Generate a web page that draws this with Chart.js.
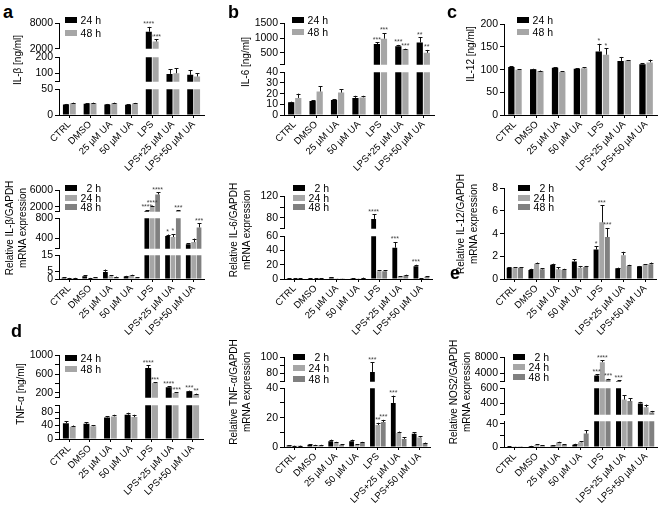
<!DOCTYPE html>
<html>
<head>
<meta charset="utf-8">
<script src="https://cdn.jsdelivr.net/npm/chart.js@4"></script>
<style>
body { margin: 0; background: #fff; }
#fig { position: relative; width: 669px; height: 507px; overflow: hidden; font-family: 'Liberation Sans', Arial, sans-serif; color: #000; background: #fff; }
#fig canvas { position: absolute; }
.lab { position: absolute; font-weight: bold; font-size: 18px; line-height: 18px; }
.yt { position: absolute; white-space: nowrap; font-size: 10px; line-height: 13px; text-align: center; transform: translate(-50%, -50%) rotate(-90deg); }
.lg { position: absolute; height: 12px; font-size: 10.5px; line-height: 12px; }
.lg i { position: absolute; left: 0; top: 3px; width: 12px; height: 6px; }
.lg span { position: absolute; left: 15px; width: 21px; text-align: right; white-space: nowrap; }
</style>
</head>
<body>
<div id="fig"></div>
<script>
const categories = ['CTRL', 'DMSO', '25 µM UA', '50 µM UA', 'LPS', 'LPS+25 µM UA', 'LPS+50 µM UA'];

// a, top: IL-β [ng/ml]
const ilbProt24 = [20.6, 22, 20.5, 20, 6000, 98, 92];
const ilbProt24Err = [21.5, 23, 21.5, 21, 7150, 126, 122];
const ilbProt24Stars = ['', '', '', '', '****', '', ''];
const ilbProt48 = [23, 23, 23, 22.5, 3700, 102, 82];
const ilbProt48Err = [24, 24, 24, 23.5, 4240, 132, 102];
const ilbProt48Stars = ['', '', '', '', '****', '', ''];

// a, bottom: relative IL-β/GAPDH mRNA
const ilbMrna2 = [0.8, 1.8, 4.5, 1.6, 1000, 450, 290];
const ilbMrna2Err = [1, 2.3, 6, 2, 1200, 480, 310];
const ilbMrna2Stars = ['', '', '', '', '****', '*', ''];
const ilbMrna24 = [0.6, 0.5, 1.8, 2.2, 2000, 430, 330];
const ilbMrna24Err = [0.7, 0.7, 2.3, 2.7, 2300, 490, 400];
const ilbMrna24Stars = ['', '', '', '', '****', '*', ''];
const ilbMrna48 = [0.7, 0.9, 1.2, 0.8, 5000, 1000, 620];
const ilbMrna48Err = [0.8, 1.1, 1.5, 1, 5500, 1100, 700];
const ilbMrna48Stars = ['', '', '', '', '****', '***', '***'];

// b, top: IL-6 [ng/ml]
const il6Prot24 = [12, 13, 14, 16, 800, 720, 850];
const il6Prot24Err = [12.5, 14, 15, 18, 860, 770, 1020];
const il6Prot24Stars = ['', '', '', '', '***', '***', '**'];
const il6Prot48 = [16, 22, 21, 16.5, 980, 620, 500];
const il6Prot48Err = [20, 27, 24, 18, 1170, 640, 600];
const il6Prot48Stars = ['', '', '', '', '***', '***', '**'];

// b, bottom: relative IL-6/GAPDH mRNA
const il6Mrna2 = [1, 1, 2, 1, 78, 44, 18];
const il6Mrna2Err = [1.3, 1.3, 2.5, 1.3, 87, 52, 20];
const il6Mrna2Stars = ['', '', '', '', '****', '***', '***'];
const il6Mrna24 = [0.8, 0.8, 0.5, 0.5, 11, 3, 1];
const il6Mrna24Err = [1, 1, 0.7, 0.7, 12.5, 4, 1.3];
const il6Mrna48 = [0.8, 1, 0.5, 1.5, 11, 5, 3];
const il6Mrna48Err = [1, 1.2, 0.7, 2, 12.5, 6, 3.8];

// c, top: IL-12 [ng/ml]
const il12Prot24 = [106, 101, 104, 102, 140, 119, 112];
const il12Prot24Err = [107, 102, 105, 103, 157, 128, 114];
const il12Prot24Stars = ['', '', '', '', '*', '', ''];
const il12Prot48 = [100, 97, 95, 103, 133, 120, 116];
const il12Prot48Err = [101, 98, 96, 105, 147, 121, 122];
const il12Prot48Stars = ['', '', '', '', '*', '', ''];

// c, bottom: relative IL-12/GAPDH mRNA
const il12Mrna2 = [1, 0.8, 1.25, 1.55, 2.6, 0.95, 1.1];
const il12Mrna2Err = [1.05, 0.9, 1.35, 1.75, 2.9, 1, 1.15];
const il12Mrna2Stars = ['', '', '', '', '*', '', ''];
const il12Mrna24 = [1, 1.35, 0.85, 1, 5, 2.1, 1.25];
const il12Mrna24Err = [1.05, 1.45, 1.05, 1.15, 6.5, 2.4, 1.3];
const il12Mrna24Stars = ['', '', '', '', '***', '', ''];
const il12Mrna48 = [1, 0.85, 0.8, 1.05, 3.7, 1.15, 1.3];
const il12Mrna48Err = [1.05, 0.95, 0.9, 1.15, 4.5, 1.25, 1.45];
const il12Mrna48Stars = ['', '', '', '', '***', '', ''];

// d, left: TNF-α [ng/ml]
const tnfProt24 = [47, 45, 64, 72, 730, 320, 235];
const tnfProt24Err = [52, 50, 67, 78, 790, 340, 250];
const tnfProt24Stars = ['', '', '', '', '****', '****', '***'];
const tnfProt48 = [36, 38, 67, 65, 410, 200, 170];
const tnfProt48Err = [40, 41, 72, 72, 430, 215, 185];
const tnfProt48Stars = ['', '', '', '', '***', '****', '**'];

// d, right: relative TNF-α/GAPDH mRNA
const tnfMrna2 = [1, 1.5, 4, 4, 82, 30, 9];
const tnfMrna2Err = [1.2, 1.8, 5, 5, 94, 35, 10];
const tnfMrna2Stars = ['', '', '', '', '***', '***', ''];
const tnfMrna24 = [0.8, 1.2, 3, 1.5, 15, 9.5, 6.5];
const tnfMrna24Err = [1, 1.5, 3.5, 1.8, 16.5, 10.5, 7.5];
const tnfMrna24Stars = ['', '', '', '', '**', '', ''];
const tnfMrna48 = [0.8, 1.2, 1.5, 3, 17, 5.5, 2.5];
const tnfMrna48Err = [1, 1.5, 1.8, 3.5, 18.5, 6.5, 3];
const tnfMrna48Stars = ['', '', '', '', '***', '', ''];

// e: relative NOS2/GAPDH mRNA
const nosMrna2 = [0.8, 1.5, 2.5, 4, 3500, 2100, 400];
const nosMrna2Err = [1, 2, 3.2, 5.5, 3800, 2300, 420];
const nosMrna2Stars = ['', '', '', '', '***', '***', ''];
const nosMrna24 = [0.5, 3.5, 7.5, 8, 6800, 450, 350];
const nosMrna24Err = [0.7, 4.5, 9, 9.5, 7300, 510, 385];
const nosMrna24Stars = ['', '', '', '', '****', '', ''];
const nosMrna48 = [0.5, 2.5, 4, 23, 2500, 430, 280];
const nosMrna48Err = [0.7, 3, 5, 29, 2700, 470, 300];
const nosMrna48Stars = ['', '', '', '', '***', '', ''];

const BLACK = '#000000';
const LIGHT = '#a6a6a6';
const DARK = '#808080';
const FONT = "'Liberation Sans', Arial, sans-serif";

const YW = 36;      // y axis box width
const PADT = 8;
const PADB = 8;
const PADR = 4;
const XH = 70;      // x axis box height

const fig = document.getElementById('fig');

// error bars (upper half) and significance stars, from each dataset's err / stars arrays
const errorBars = {
    id: 'errorBars',
    afterDatasetsDraw(chart) {
        const ctx = chart.ctx;
        const area = chart.chartArea;
        const y = chart.scales.y;
        chart.data.datasets.forEach((ds, i) => {
            const meta = chart.getDatasetMeta(i);
            meta.data.forEach((bar, j) => {
                const v = ds.data[j];
                const e = ds.err[j];
                const y0 = y.getPixelForValue(v);
                const y1 = y.getPixelForValue(e);
                ctx.save();
                ctx.beginPath();
                ctx.rect(area.left, area.top, area.right - area.left, area.bottom - area.top);
                ctx.clip();
                ctx.strokeStyle = '#111';
                ctx.lineWidth = 1;
                ctx.beginPath();
                ctx.moveTo(Math.round(bar.x) + 0.5, y0);
                ctx.lineTo(Math.round(bar.x) + 0.5, y1);
                ctx.moveTo(Math.round(bar.x) - 1.5, Math.round(y1) + 0.5);
                ctx.lineTo(Math.round(bar.x) + 2.5, Math.round(y1) + 0.5);
                ctx.stroke();
                ctx.restore();
                const s = ds.stars && ds.stars[j];
                if (s && e <= y.max && v >= y.min) {
                    ctx.save();
                    ctx.fillStyle = '#444';
                    ctx.font = '7px ' + FONT;
                    ctx.textAlign = 'center';
                    ctx.textBaseline = 'bottom';
                    ctx.fillText(s, bar.x, y1 + 1);
                    ctx.restore();
                }
            });
        });
    }
};

function addText(cls, x, y, html) {
    const d = document.createElement('div');
    d.className = cls;
    d.style.left = x + 'px';
    d.style.top = y + 'px';
    d.innerHTML = html;
    fig.appendChild(d);
}

function addLegend(x, ys, names, colors) {
    names.forEach((n, k) => {
        addText('lg', x, ys[k] - 6, '<i style="background:' + colors[k] + '"></i><span>' + n + '</span>');
    });
}

function buildPanel(p) {
    p.segs.forEach((s, k) => {
        const last = k === p.segs.length - 1;
        const cv = document.createElement('canvas');
        cv.width = YW + (p.x1 - p.x0) + PADR;
        cv.height = s.bottom - s.top + PADT + (last ? XH : PADB);
        cv.style.left = (p.x0 - YW) + 'px';
        cv.style.top = (s.top - PADT) + 'px';
        fig.appendChild(cv);

        new Chart(cv, {
            type: 'bar',
            data: {
                labels: categories,
                datasets: p.series.map(sr => ({
                    label: sr.name,
                    data: sr.data,
                    err: sr.err,
                    stars: sr.stars,
                    backgroundColor: sr.color,
                    borderWidth: 0,
                    clip: 0,
                    categoryPercentage: p.catPct,
                    barPercentage: 0.88
                }))
            },
            options: {
                responsive: false,
                animation: false,
                events: [],
                layout: { padding: { top: PADT, bottom: last ? 0 : PADB, left: 0, right: PADR } },
                plugins: { legend: { display: false }, tooltip: { enabled: false } },
                scales: {
                    x: {
                        display: last,
                        grid: { drawOnChartArea: false, offset: false, tickLength: 3, color: '#000' },
                        border: { color: '#000' },
                        ticks: {
                            color: '#000', font: { family: FONT, size: 9.5 },
                            minRotation: 45, maxRotation: 45, autoSkip: false, padding: 1
                        },
                        afterFit: sc => { sc.height = last ? XH : 0; }
                    },
                    y: {
                        min: s.min,
                        max: s.max,
                        grid: { drawOnChartArea: false, tickLength: 4, color: '#000' },
                        border: { color: '#000' },
                        ticks: {
                            color: '#000', font: { family: FONT, size: 10.5 }, padding: 2, autoSkip: false,
                            callback: v => s.labels.includes(v) ? String(v) : ''
                        },
                        afterBuildTicks: sc => { sc.ticks = s.ticks.map(v => ({ value: v })); },
                        afterFit: sc => { sc.width = YW; }
                    }
                }
            },
            plugins: [errorBars]
        });
    });
}

const two = (a, ae, as, b, be, bs) => [
    { name: '24 h', data: a, err: ae, stars: as, color: BLACK },
    { name: '48 h', data: b, err: be, stars: bs, color: LIGHT }
];
const three = (a, ae, as, b, be, bs, c, ce, cs) => [
    { name: '2 h', data: a, err: ae, stars: as, color: BLACK },
    { name: '24 h', data: b, err: be, stars: bs, color: LIGHT },
    { name: '48 h', data: c, err: ce, stars: cs, color: DARK }
];
const none = categories.map(() => '');

const panels = [
    { x0: 59, x1: 204, catPct: 0.66,
      series: two(ilbProt24, ilbProt24Err, ilbProt24Stars, ilbProt48, ilbProt48Err, ilbProt48Stars),
      segs: [
        { min: 2000, max: 8000, top: 23, bottom: 49, ticks: [2000, 8000], labels: [2000, 8000] },
        { min: 50, max: 200, top: 57, bottom: 82, ticks: [50, 100, 200], labels: [100, 200] },
        { min: 0, max: 50, top: 89, bottom: 115, ticks: [0, 50], labels: [0, 50] }
      ] },
    { x0: 284, x1: 434, catPct: 0.66,
      series: two(il6Prot24, il6Prot24Err, il6Prot24Stars, il6Prot48, il6Prot48Err, il6Prot48Stars),
      segs: [
        { min: 100, max: 1500, top: 23, bottom: 65, ticks: [100, 500, 1000, 1500], labels: [500, 1000, 1500] },
        { min: 0, max: 40, top: 72, bottom: 115, ticks: [0, 10, 20, 30, 40], labels: [0, 10, 20, 30, 40] }
      ] },
    { x0: 504, x1: 657, catPct: 0.66,
      series: two(il12Prot24, il12Prot24Err, il12Prot24Stars, il12Prot48, il12Prot48Err, il12Prot48Stars),
      segs: [
        { min: 0, max: 200, top: 24, bottom: 115, ticks: [0, 50, 100, 150, 200], labels: [0, 50, 100, 150, 200] }
      ] },
    { x0: 59, x1: 204, catPct: 0.78,
      series: three(ilbMrna2, ilbMrna2Err, ilbMrna2Stars, ilbMrna24, ilbMrna24Err, ilbMrna24Stars, ilbMrna48, ilbMrna48Err, ilbMrna48Stars),
      segs: [
        { min: 800, max: 6000, top: 190, bottom: 212, ticks: [800, 2000, 6000], labels: [2000, 6000] },
        { min: 200, max: 800, top: 218, bottom: 249, ticks: [200, 400, 800], labels: [400, 800] },
        { min: 0, max: 15, top: 255, bottom: 279, ticks: [0, 5, 15], labels: [0, 5, 15] }
      ] },
    { x0: 284, x1: 432, catPct: 0.78,
      series: three(il6Mrna2, il6Mrna2Err, il6Mrna2Stars, il6Mrna24, il6Mrna24Err, none, il6Mrna48, il6Mrna48Err, none),
      segs: [
        { min: 60, max: 120, top: 196, bottom: 229, ticks: [60, 80, 100, 120], labels: [80, 120] },
        { min: 0, max: 60, top: 236, bottom: 279, ticks: [0, 20, 40, 60], labels: [0, 20, 40, 60] }
      ] },
    { x0: 504, x1: 656, catPct: 0.78,
      series: three(il12Mrna2, il12Mrna2Err, il12Mrna2Stars, il12Mrna24, il12Mrna24Err, il12Mrna24Stars, il12Mrna48, il12Mrna48Err, il12Mrna48Stars),
      segs: [
        { min: 0, max: 8, top: 188, bottom: 279, ticks: [0, 2, 4, 6, 8], labels: [0, 2, 4, 6, 8] }
      ] },
    { x0: 59, x1: 203, catPct: 0.66,
      series: two(tnfProt24, tnfProt24Err, tnfProt24Stars, tnfProt48, tnfProt48Err, tnfProt48Stars),
      segs: [
        { min: 100, max: 1000, top: 355, bottom: 398, ticks: [100, 200, 400, 600, 800, 1000], labels: [200, 600, 1000] },
        { min: 0, max: 100, top: 405, bottom: 439, ticks: [0, 20, 40, 60, 80, 100], labels: [0, 40, 80] }
      ] },
    { x0: 284, x1: 430, catPct: 0.78,
      series: three(tnfMrna2, tnfMrna2Err, tnfMrna2Stars, tnfMrna24, tnfMrna24Err, tnfMrna24Stars, tnfMrna48, tnfMrna48Err, tnfMrna48Stars),
      segs: [
        { min: 70, max: 100, top: 357, bottom: 382, ticks: [70, 80, 90, 100], labels: [80, 100] },
        { min: 0, max: 40, top: 388, bottom: 447, ticks: [0, 10, 20, 30, 40], labels: [0, 20, 40] }
      ] },
    { x0: 504, x1: 657, catPct: 0.78,
      series: three(nosMrna2, nosMrna2Err, nosMrna2Stars, nosMrna24, nosMrna24Err, nosMrna24Stars, nosMrna48, nosMrna48Err, nosMrna48Stars),
      segs: [
        { min: 2000, max: 8000, top: 357, bottom: 382, ticks: [2000, 4000, 8000], labels: [4000, 8000] },
        { min: 250, max: 600, top: 388, bottom: 415, ticks: [250, 400, 600], labels: [400, 600] },
        { min: 0, max: 44, top: 421, bottom: 447, ticks: [0, 20, 40], labels: [0, 40] }
      ] }
];

panels.forEach(buildPanel);

// panel letters
addText('lab', 3, 3, 'a');
addText('lab', 228, 3, 'b');
addText('lab', 447, 3, 'c');
addText('lab', 11, 322, 'd');
addText('lab', 450, 264, 'e');

// y axis titles
addText('yt', 17, 60, 'IL-β [ng/ml]');
addText('yt', 245, 62, 'IL-6 [ng/ml]');
addText('yt', 470, 54, 'IL-12 [ng/ml]');
addText('yt', 16, 228, 'Relative IL-β/GAPDH<br>mRNA expression');
addText('yt', 240, 230, 'Relative IL-6/GAPDH<br>mRNA expression');
addText('yt', 467, 224, 'Relative IL-12/GAPDH<br>mRNA expression');
addText('yt', 20, 394, 'TNF-α [ng/ml]');
addText('yt', 240, 392, 'Relative TNF-α/GAPDH<br>mRNA expression');
addText('yt', 460, 392, 'Relative NOS2/GAPDH<br>mRNA expression');

// legends
addLegend(65, [20, 33], ['24 h', '48 h'], [BLACK, LIGHT]);
addLegend(292, [20, 32], ['24 h', '48 h'], [BLACK, LIGHT]);
addLegend(517, [20, 32], ['24 h', '48 h'], [BLACK, LIGHT]);
addLegend(65, [188, 197.5, 207], ['2 h', '24 h', '48 h'], [BLACK, LIGHT, DARK]);
addLegend(293, [188, 197.5, 207], ['2 h', '24 h', '48 h'], [BLACK, LIGHT, DARK]);
addLegend(518, [188, 197.5, 207], ['2 h', '24 h', '48 h'], [BLACK, LIGHT, DARK]);
addLegend(65, [358, 369], ['24 h', '48 h'], [BLACK, LIGHT]);
addLegend(293, [357, 368, 379], ['2 h', '24 h', '48 h'], [BLACK, LIGHT, DARK]);
addLegend(513, [357, 367, 377], ['2 h', '24 h', '48 h'], [BLACK, LIGHT, DARK]);
</script>
</body>
</html>
